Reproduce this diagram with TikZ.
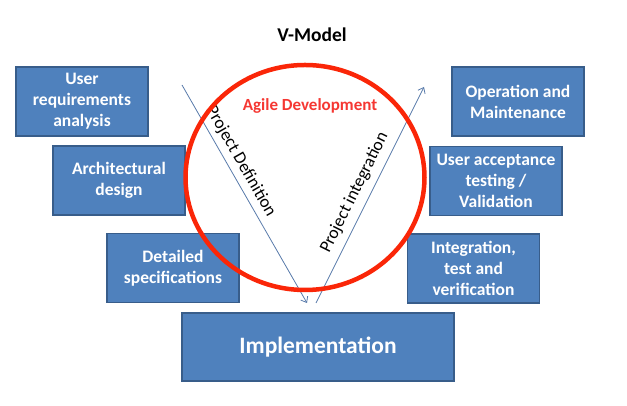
\documentclass[tikz,border=0pt]{standalone}
\usepackage{fontspec}
\setmainfont{Carlito}
\usepackage{tikz}
\usetikzlibrary{positioning, shapes.geometric, arrows.meta}

\definecolor{phasefill}{RGB}{79,129,189}
\definecolor{phaseedge}{RGB}{56,93,138}
\definecolor{flowblue}{RGB}{88,122,170}
\definecolor{agilered}{RGB}{250,38,8}
\definecolor{agiletext}{RGB}{245,55,50}

\begin{document}
\begin{tikzpicture}[
  x=1pt, y=1pt,
  phase/.style={draw=phaseedge, fill=phasefill, line width=1.5pt, minimum width=132pt, minimum height=69pt,
    inner sep=2pt, align=center, text=white, font=\fontsize{17.5}{21}\selectfont\bfseries},
  flow/.style={draw=flowblue, line width=0.8pt, -{Straight Barb[length=5pt, width=8pt]}},
  flowlabel/.style={sloped, above, inner sep=5pt, font=\fontsize{17.5}{21}\selectfont},
  ring/.style={ellipse, draw=agilered, line width=4.5pt, inner sep=0pt}
]
\useasboundingbox (0,0) rectangle (627,406);

% Title
\node[font=\fontsize{19.5}{23}\selectfont\bfseries] (title) at (312,371) {V-Model};

% Left branch (definition)
\node[phase] (userreq) at (82,304.5) {User\\requirements\\analysis};
\node[phase] (archdes) at (119,225.5) {Architectural\\design};
\node[phase] (detspec) at (173,138) {Detailed\\specifications};

% Right branch (integration)
\node[phase] (opmaint) at (518,304.5) {Operation and\\Maintenance};
\node[phase] (useracc) at (496,225) {User acceptance\\testing /\\Validation};
\node[phase] (inttest) at (473.5,137.5) {Integration,\\test and\\verification};

% Bottom
\node[phase, minimum width=272pt, minimum height=68pt, font=\fontsize{23.5}{28}\selectfont\bfseries] (impl) at (318,59) {Implementation};

% Arrow ends
\coordinate (defstart) at (182,321);
\coordinate (defend) at (307,103);
\coordinate (intstart) at (316,103);
\coordinate (intend) at (424,319);

% Arrows
\draw[flow] (defstart) -- node[flowlabel, pos=0.38] {Project Definition} (defend);
\draw[flow] (intstart) -- node[flowlabel, pos=0.48, inner sep=7pt] {Project integration} (intend);

% Agile ring
\node[ring, minimum width=239pt, minimum height=225pt] (agile) at (305,228.5) {};
\node[text=agiletext, font=\fontsize{17}{20}\selectfont\bfseries] (agilelabel) at (310,300) {Agile Development};

\end{tikzpicture}
\end{document}
